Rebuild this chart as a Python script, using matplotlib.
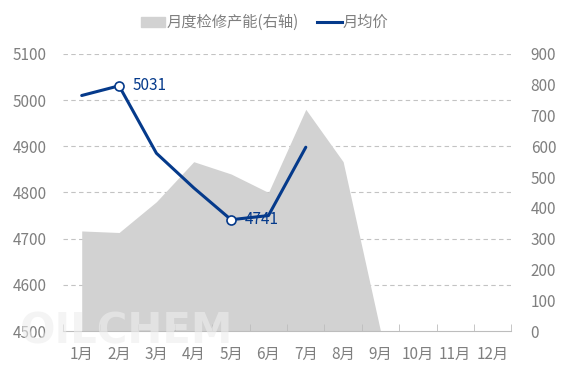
import matplotlib
matplotlib.use("Agg")
import matplotlib.pyplot as plt
from matplotlib.patches import Patch
from matplotlib.lines import Line2D
import numpy as np

plt.rcParams['font.family'] = ['Noto Sans CJK SC', 'DejaVu Sans']

# 数据
months = ['1月', '2月', '3月', '4月', '5月', '6月', '7月', '8月', '9月', '10月', '11月', '12月']
capacity = [325, 320, 420, 550, 510, 450, 720, 550, 0]       # 月度检修产能(右轴)
price = [5010, 5031, 4885, 4810, 4741, 4750, 4898]             # 月均价
labeled = {1: '5031', 4: '4741'}

grey_txt = '#7f7f7f'
navy = '#053a8b'
area_c = '#d2d2d2'

fig = plt.figure(figsize=(5.68, 3.78), dpi=100)
ax = fig.add_axes([0.111, 0.1243, 0.789, 0.733])
ax2 = ax.twinx()

x = np.arange(len(months))

# 面积 (右轴)
ax2.fill_between(x[:len(capacity)], capacity, 0, color=area_c, lw=0, zorder=1)
ax2.set_ylim(0, 900)
ax2.set_yticks(range(0, 901, 100))

# 折线 (左轴) 画在右轴上层
ax.set_zorder(ax2.get_zorder() + 1)
ax.patch.set_visible(False)
ax.plot(x[:len(price)], price, color=navy, lw=2.2, zorder=3, solid_capstyle='round')
for i, txt in labeled.items():
    ax.plot(i, price[i], 'o', ms=6.5, mfc='white', mec=navy, mew=1.2, zorder=4)
    ax.annotate(txt, (i, price[i]), xytext=(10, 0), textcoords='offset points',
                va='center', ha='left', color=navy, fontsize=11, zorder=5)

ax.set_ylim(4500, 5100)
ax.set_yticks(range(4500, 5101, 100))
ax.set_xlim(-0.5, len(months) - 0.5)
ax.set_xticks(x)
ax.set_xticklabels(months)
ax.set_xticks(np.arange(-0.5, len(months), 1), minor=True)

# 网格 (虚线)
for v in range(4600, 5101, 100):
    ax2.axhline((v - 4500) * 1.5, color='#c3c3c3', lw=0.8, ls=(0, (4, 3)), zorder=0)

for a in (ax, ax2):
    for s in a.spines.values():
        s.set_visible(False)
ax.spines['bottom'].set_visible(True)
ax.spines['bottom'].set_color('#bdbdbd')
ax.tick_params(axis='x', which='major', length=0, pad=11, colors=grey_txt, labelsize=11)
ax.tick_params(axis='x', which='minor', length=5, color='#bdbdbd', direction='in')
ax.tick_params(axis='y', length=0, pad=12, labelcolor=grey_txt, labelsize=11)
ax2.tick_params(axis='y', length=0, pad=14, labelcolor=grey_txt, labelsize=11)

# 水印
fig.text(0.035, 0.09, 'OILCHEM', fontsize=30, fontweight='bold', color='#ededed',
         alpha=0.6, zorder=10, family='DejaVu Sans')

# 图例
handles = [Patch(color=area_c, label='月度检修产能(右轴)'),
           Line2D([0], [0], color=navy, lw=2.2, label='月均价')]
fig.legend(handles=handles, loc='center', bbox_to_anchor=(0.466, 0.94), ncol=2,
           frameon=False, fontsize=11, labelcolor=grey_txt, handlelength=1.6,
           handleheight=0.6, handletextpad=0.1, columnspacing=1.2)

fig.savefig('out.png', dpi=100)
